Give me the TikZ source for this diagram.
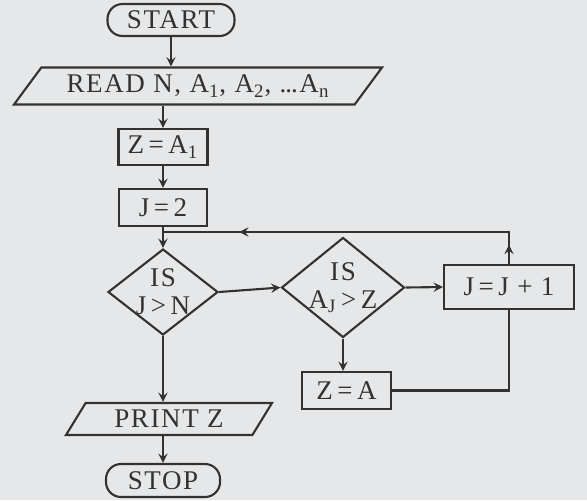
\documentclass[tikz,border=0pt]{standalone}
\usepackage{fontspec}
\setmainfont{Liberation Serif}[LetterSpace=6]
\usetikzlibrary{arrows,shapes.geometric,calc}
\definecolor{paper}{RGB}{229,231,232}
\definecolor{ink}{RGB}{50,50,50}

\begin{document}
\begin{tikzpicture}[x=0.5pt, y=-0.5pt, >=stealth, line width=1.05pt, draw=ink,
    every node/.style={font=\fontsize{13.5}{14}\selectfont, text=ink, inner sep=0pt},
    term/.style={draw=ink, rounded corners=7.5pt, minimum height=16pt},
    proc/.style={draw=ink, minimum height=18.5pt},
    io/.style={draw=ink, trapezium, trapezium stretches body},
    decision/.style={draw=ink, diamond}]

    % === background and frame ===
    \fill[paper] (0,0) rectangle (587,500);

    % === nodes ===
    \node[term, minimum width=63.5pt] (start) at (171,20) {START};
    \node[io, minimum width=184pt, minimum height=18.5pt,
          trapezium left angle=39, trapezium right angle=141] (read) at (198,86)
          {READ N,\ A\textsubscript{1},\ A\textsubscript{2},\ .\kern-0.5pt.\kern-0.5pt.A\textsubscript{n}};
    \node[proc, minimum width=44.5pt, minimum height=18pt] (za1) at (163,147) {Z\,=\,A\textsubscript{1}};
    \node[proc, minimum width=44pt] (j2) at (163,207.5) {J\,=\,2};
    \node[decision, minimum width=55pt, minimum height=43pt,
          label={[align=center]center:IS\\J\,>\,N}] (d1) at (163,292) {};
    \node[decision, minimum width=61.5pt, minimum height=50pt,
          label={[align=center]center:IS\\A\textsubscript{J}\,>\,Z}] (d2) at (343,287.5) {};
    \node[proc, minimum width=65pt, minimum height=22pt] (jj) at (509,287) {J\,=\,J + 1};
    \node[proc, minimum width=44.5pt] (za) at (346.5,390.5) {Z\,=\,A};
    \node[io, minimum width=103pt, minimum height=16pt,
          trapezium left angle=42, trapezium right angle=138] (print) at (169,419) {PRINT Z};
    \node[term, minimum width=57pt, minimum height=16.5pt] (stop) at (163,480.5) {STOP};

    % === loop points ===
    \coordinate (join) at (j2.south |- 0,232);
    \coordinate (corner) at (jj.north |- join);

    % === main line ===
    \draw[->] (start.south) -- (start.south |- read.north);
    \draw[->] (za1.north |- read.south) -- (za1.north);
    \draw[->] (za1) -- (j2);
    \draw[->] (j2.south) -- (j2.south |- d1.north);
    \draw[->] (d1.east) -- (d2.west);
    \draw[->] (d2.east) -- (jj.west);
    \draw[->] (d2.south) -- (d2.south |- za.north);
    \draw[->] (d1.south) -- (d1.south |- print.north);
    \draw[->] (stop.north |- print.south) -- (stop.north);

    % === back to the test ===
    \draw (za.east) -- (jj.south |- za.east) -- (jj.south);
    \draw (jj.north) -- (corner) -- (join);
    \draw[->] (jj.north) -- ($(jj.north)!0.6!(corner)$);
    \draw[->] (corner) -- ($(corner)!0.78!(join)$);

\end{tikzpicture}
\end{document}
